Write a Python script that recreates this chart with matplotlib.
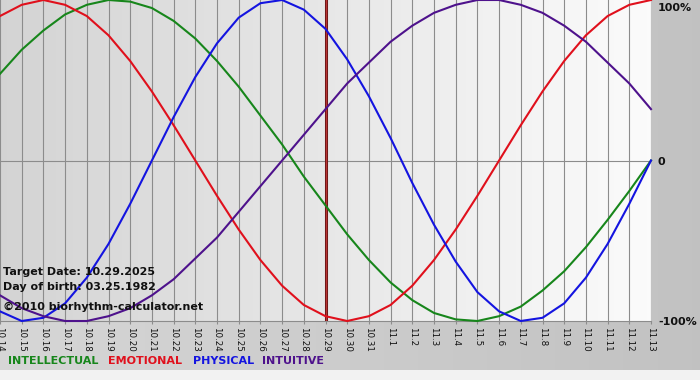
import matplotlib
matplotlib.use("Agg")
import matplotlib.pyplot as plt
import numpy as np

# ---- data ----
dates = ["10.14", "10.15", "10.16", "10.17", "10.18", "10.19", "10.20", "10.21",
         "10.22", "10.23", "10.24", "10.25", "10.26", "10.27", "10.28", "10.29",
         "10.30", "10.31", "11.1", "11.2", "11.3", "11.4", "11.5", "11.6",
         "11.7", "11.8", "11.9", "11.10", "11.11", "11.12", "11.13"]

physical = [-0.94, -1.00, -0.98, -0.89, -0.73, -0.52, -0.27, 0.00, 0.27, 0.52,
            0.73, 0.89, 0.98, 1.00, 0.94, 0.82, 0.63, 0.40, 0.14, -0.14,
            -0.40, -0.63, -0.82, -0.94, -1.00, -0.98, -0.89, -0.73, -0.52, -0.27, 0.00]

emotional = [0.90, 0.97, 1.00, 0.97, 0.90, 0.78, 0.62, 0.43, 0.22, 0.00,
             -0.22, -0.43, -0.62, -0.78, -0.90, -0.97, -1.00, -0.97, -0.90, -0.78,
             -0.62, -0.43, -0.22, 0.00, 0.22, 0.43, 0.62, 0.78, 0.90, 0.97, 1.00]

intellectual = [0.54, 0.69, 0.81, 0.91, 0.97, 1.00, 0.99, 0.95, 0.87, 0.76,
                0.62, 0.46, 0.28, 0.10, -0.10, -0.28, -0.46, -0.62, -0.76, -0.87,
                -0.95, -0.99, -1.00, -0.97, -0.91, -0.81, -0.69, -0.54, -0.37, -0.19, 0.00]

intuitive = [-0.84, -0.92, -0.97, -1.00, -1.00, -0.97, -0.92, -0.84, -0.74, -0.61,
             -0.48, -0.32, -0.16, 0.00, 0.16, 0.32, 0.48, 0.61, 0.74, 0.84,
             0.92, 0.97, 1.00, 1.00, 0.97, 0.92, 0.84, 0.74, 0.61, 0.48, 0.32]

target_date = "10.29"
y_labels = ["100%", "0", "-100%"]
y_values = [1, 0, -1]
legend_names = ["INTELLECTUAL", "EMOTIONAL", "PHYSICAL", "INTUITIVE"]
info_lines = ["Target Date: 10.29.2025", "Day of birth: 03.25.1982",
              "\u00a92010 biorhythm-calculator.net"]

# ---- styling ----
W, H = 700, 380
C_INT = "#17861b"
C_EMO = "#e0101c"
C_PHY = "#1414e0"
C_ITU = "#4e128c"
GRID = "#8c8c8c"

plt.rcParams["font.family"] = ["DejaVu Sans"]
fig = plt.figure(figsize=(W / 100, H / 100), dpi=100)

# figure background gradient
bg = fig.add_axes([0, 0, 1, 1])
bg.set_axis_off()
t = np.linspace(0, 1, 256)[:, None]
c0 = np.array([0.84, 0.84, 0.84])
c1 = np.array([0.76, 0.76, 0.76])
grad = (c0 + (c1 - c0) * t)[None, :, :]
bg.imshow(grad, extent=[0, 1, 0, 1], aspect="auto", zorder=0)
bg.add_patch(plt.Rectangle((0, 0), 1, 10 / H, color="#f2f2f2", zorder=1, lw=0))
bg.set_xlim(0, 1)
bg.set_ylim(0, 1)

# main axes
top_px, bot_px, right_px = 0, 321, 651
ax = fig.add_axes([0, 1 - bot_px / H, right_px / W, (bot_px - top_px) / H])
x = np.arange(len(dates))
n = len(dates) - 1
p0 = np.array([0.83, 0.83, 0.83])
p1 = np.array([0.985, 0.985, 0.985])
pgrad = (p0 + (p1 - p0) * t)[None, :, :]
ax.imshow(pgrad, extent=[0, n, -1, 1], aspect="auto", zorder=0)
ax.set_xlim(0, n)
ax.set_ylim(-1, 1)
for s in ax.spines.values():
    s.set_visible(False)

ax.set_xticks(x)
ax.set_xticklabels(dates)
ax.tick_params(axis="x", length=2.5, width=0.8, color=GRID, pad=1.5,
               labelsize=6.3, labelrotation=270, labelcolor="#111111")
ax.set_yticks([])
for xi in x:
    ax.axvline(xi, color=GRID, lw=0.8, zorder=1)
ax.axhline(0, color=GRID, lw=0.8, zorder=1)
ax.axhline(-1, color=GRID, lw=0.8, zorder=1, clip_on=False)

ti = dates.index(target_date)
ax.axvline(ti, color="#661414", lw=2.2, zorder=2)
ax.axvline(ti, color="#b83434", lw=0.9, zorder=2)

for vals, col in [(intellectual, C_INT), (emotional, C_EMO),
                  (physical, C_PHY), (intuitive, C_ITU)]:
    ax.plot(x, vals, color=col, lw=1.5, zorder=3, clip_on=False,
            solid_joinstyle="round")

# right side labels
y_pos_px = {1: 8, 0: 162, -1: 322}
for lab, v in zip(y_labels, y_values):
    fig.text(658 / W, 1 - y_pos_px[v] / H, lab, ha="left", va="center",
             fontsize=8, fontweight="bold", color="#111111")

# info text
for line, ypx in zip(info_lines, [272, 287, 307]):
    fig.text(3 / W, 1 - ypx / H, line, ha="left", va="center",
             fontsize=8, fontweight="bold", color="#111111")

# legend text
for name, col, xpx in zip(legend_names, [C_INT, C_EMO, C_PHY, C_ITU],
                          [8, 108, 193, 262]):
    fig.text(xpx / W, 1 - 361 / H, name, ha="left", va="center",
             fontsize=8, fontweight="bold", color=col)

fig.savefig("out.png", dpi=100)
